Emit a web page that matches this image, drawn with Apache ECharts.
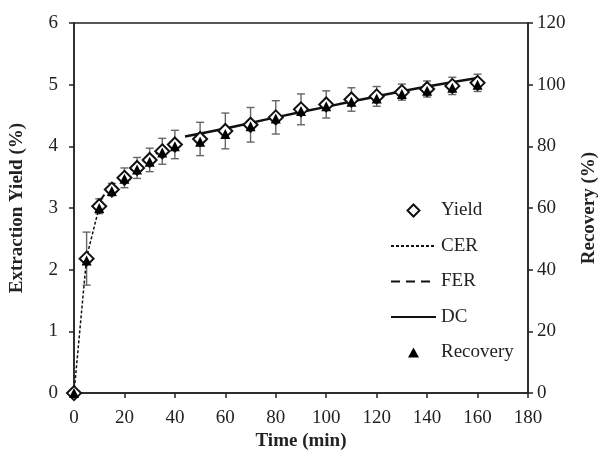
<!DOCTYPE html>
<html>
<head>
<meta charset="utf-8">
<script src="https://cdn.jsdelivr.net/npm/echarts@6/dist/echarts.min.js"></script>
<style>html,body{margin:0;padding:0;background:#fff}#c{width:607px;height:456px}</style>
</head>
<body>
<div id="c"></div>
<script>
const time = [0,5,10,15,20,25,30,35,40,50,60,70,80,90,100,110,120,130,140,150,160];
const yieldVal = [0,2.18,3.03,3.30,3.49,3.65,3.78,3.92,4.03,4.12,4.25,4.35,4.47,4.60,4.68,4.76,4.81,4.88,4.93,4.98,5.03];
const yieldErr = [0,0.43,0.12,0.10,0.16,0.17,0.19,0.21,0.23,0.27,0.29,0.28,0.27,0.25,0.22,0.19,0.16,0.13,0.13,0.14,0.14];
const recovery = [0,43,60,65.5,69.5,72.5,75,78,80,81.5,84,86.5,89,91.5,93,94.5,95.5,97,98,99,100];
const cerTime = [0,5,10];
const cerVal = [0,2.2,3.02];
const ferTime = [10,15,20,25,30,35,40];
const ferVal = [3.1,3.36,3.54,3.69,3.82,3.94,4.05];
const dcTime = [44,60,80,100,120,140,160];
const dcVal = [4.16,4.29,4.47,4.64,4.81,4.97,5.11];
const xTicks = {min:0,max:180,interval:20};
const yTicks = {min:0,max:6,interval:1};
const y2Ticks = {min:0,max:120,interval:20};

const F = 'Liberation Serif';
const C = '#222';
const zip = (a,b)=>a.map((v,i)=>[v,b[i]]);
const errData = time.map((t,i)=>[t, yieldVal[i]-yieldErr[i], yieldVal[i]+yieldErr[i]]).filter((d,i)=>yieldErr[i]>0);

const axisCommon = {
  axisLine:{show:true,lineStyle:{color:C,width:1.5}},
  axisTick:{show:true,inside:false,length:5,lineStyle:{color:C,width:1.5}},
  splitLine:{show:false},
  axisLabel:{fontFamily:F,fontSize:19,color:C},
  nameTextStyle:{fontFamily:F,fontSize:19,fontWeight:'bold',color:C}
};
const noSym = {color:'rgba(0,0,0,0)',borderWidth:0};

const chart = echarts.init(document.getElementById('c'));
chart.setOption({
  animation:false,
  grid:{left:73,right:65,top:23,bottom:58,show:true,borderColor:C,borderWidth:1.5},
  legend:{
    orient:'vertical',left:385,top:196,itemWidth:45,itemHeight:14,itemGap:16.5,
    textStyle:{fontFamily:F,fontSize:19,color:C},
    data:[
      {name:'Yield',icon:'path://M0,0M45,14M22.5,1L28.5,7L22.5,13L16.5,7Z'},
      {name:'CER',itemStyle:noSym},
      {name:'FER',itemStyle:noSym},
      {name:'DC',itemStyle:noSym},
      {name:'Recovery',icon:'path://M0,0M45,14M22.5,2L28,12L17,12Z'}
    ]
  },
  xAxis:Object.assign({},axisCommon,{type:'value',min:xTicks.min,max:xTicks.max,interval:xTicks.interval,
    name:'Time (min)',nameLocation:'middle',nameGap:38,
    axisLabel:Object.assign({},axisCommon.axisLabel,{margin:15})}),
  yAxis:[
    Object.assign({},axisCommon,{type:'value',min:yTicks.min,max:yTicks.max,interval:yTicks.interval,
      name:'Extraction Yield (%)',nameLocation:'middle',nameGap:47,nameRotate:90,
      axisLabel:Object.assign({},axisCommon.axisLabel,{margin:16})}),
    Object.assign({},axisCommon,{type:'value',position:'right',min:y2Ticks.min,max:y2Ticks.max,interval:y2Ticks.interval,
      name:'Recovery (%)',nameLocation:'middle',nameGap:52,nameRotate:90,
      axisLabel:Object.assign({},axisCommon.axisLabel,{margin:9})})
  ],
  series:[
    {type:'custom',name:'err',z:1,data:errData,
      renderItem:function(params,api){
        const x=api.value(0);
        const p1=api.coord([x,api.value(2)]), p2=api.coord([x,api.value(1)]);
        const w=4, st={stroke:'#666',lineWidth:1.4};
        return {type:'group',children:[
          {type:'line',shape:{x1:p1[0],y1:p1[1],x2:p2[0],y2:p2[1]},style:st},
          {type:'line',shape:{x1:p1[0]-w,y1:p1[1],x2:p1[0]+w,y2:p1[1]},style:st},
          {type:'line',shape:{x1:p2[0]-w,y1:p2[1],x2:p2[0]+w,y2:p2[1]},style:st}
        ]};
      }},
    {type:'line',name:'CER',z:2,data:zip(cerTime,cerVal),symbol:'none',
      lineStyle:{color:'#111',width:1.5,type:[3,2]},itemStyle:{color:'#111'}},
    {type:'line',name:'FER',z:2,data:zip(ferTime,ferVal),symbol:'none',smooth:true,
      lineStyle:{color:'#111',width:2,type:[9,6]},itemStyle:{color:'#111'}},
    {type:'line',name:'DC',z:2,data:zip(dcTime,dcVal),symbol:'none',smooth:true,
      lineStyle:{color:'#111',width:2.5,type:'solid'},itemStyle:{color:'#111'}},
    {type:'scatter',name:'Yield',z:3,data:zip(time,yieldVal),symbol:'diamond',symbolSize:14,
      itemStyle:{color:'#fff',borderColor:'#111',borderWidth:2,opacity:1}},
    {type:'scatter',name:'Recovery',z:4,yAxisIndex:1,data:zip(time,recovery),symbol:'triangle',symbolSize:10,
      itemStyle:{color:'#000',opacity:1}}
  ]
});
</script>
</body>
</html>
